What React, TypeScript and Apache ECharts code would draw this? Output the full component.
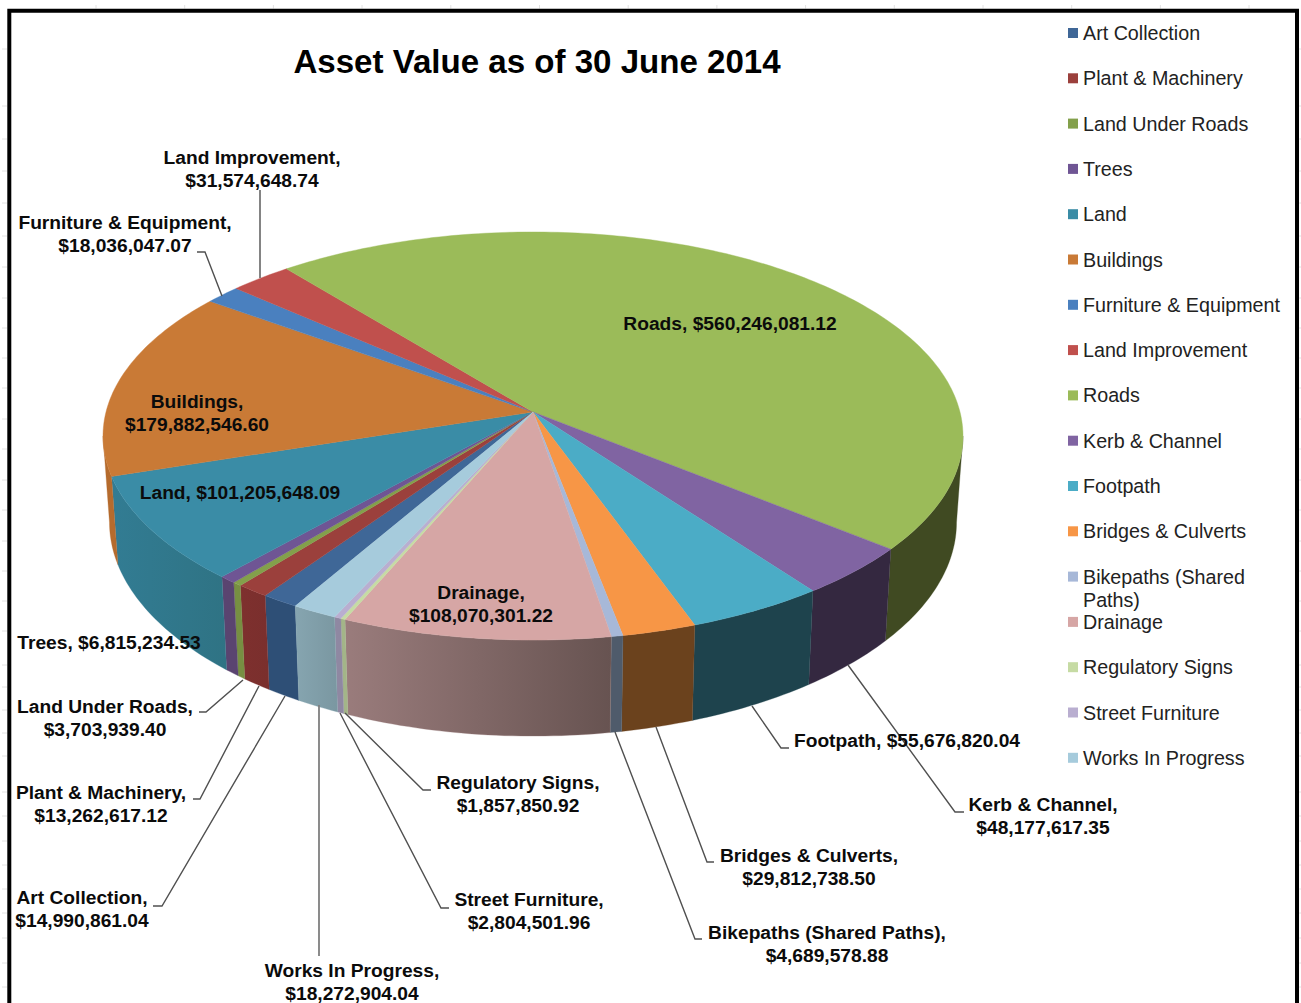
import React, { useEffect, useRef } from "react";
import * as echarts from "echarts";

const categories = ["Art Collection","Plant & Machinery","Land Under Roads","Trees","Land","Buildings","Furniture & Equipment","Land Improvement","Roads","Kerb & Channel","Footpath","Bridges & Culverts","Bikepaths (Shared Paths)","Drainage","Regulatory Signs","Street Furniture","Works In Progress"];
const values = [14990861.04,13262617.12,3703939.40,6815234.53,101205648.09,179882546.60,18036047.07,31574648.74,560246081.12,48177617.35,55676820.04,29812738.50,4689578.88,108070301.22,1857850.92,2804501.96,18272904.04];
const topColors = ["#3f6797","#9b403c","#83a04b","#6f5594","#3a8ca6","#c97a36","#4a80bf","#c0504d","#9bbb59","#8064a2","#4bacc6","#f79646","#a7b8d8","#d6a6a5","#c6dba4","#b9aed0","#a6cbdc"];
const wallLeft = ["#2e4f76","#7e302e","#778f42","#5a4470","#327c93","#b56b2d","#35567f","#823634","#404a22","#342840","#1e434d","#6b421d","#4f5b6b","#9a7c7c","#a3b588","#8f88a2","#86a5b0"];
const wallRight = ["#2e4f76","#7a2f2d","#778f42","#5a4470","#2f7384","#b56b2d","#35567f","#823634","#404a22","#342840","#1e434d","#6b421d","#4f5b6b","#675351","#a3b588","#8f88a2","#7a97a1"];

// label text layout: [centre x, first-line-centre y, two lines?]
const labelLayout: [number, number, boolean][] = [
  [82,897,true],[101,792,true],[105,706,true],[109,642,false],[240,492,false],[197,401,true],[125,222,true],[252,157,true],
  [730,323,false],[1043,804,true],[907,740,false],[809,855,true],[827,932,true],[481,592,true],[518,782,true],[529,899,true],[352,970,true],
];
const leaders: number[][][] = [
  [[153,906],[162,906],[285,696]],[[193,799],[200,799],[259,686]],[[199,712],[206,712],[243,680]],[],[],[],
  [[197,252],[205,252],[222,296]],[[260,190],[260,278]],[],[[848,665],[955,812],[964,812]],[[752,706],[781,748],[789,748]],
  [[656,727],[707,862],[714,862]],[[615,732],[695,939],[702,939]],[],[[345,713],[423,790],[431,790]],[[340,713],[441,908],[449,908]],[[319,705],[319,956]],
];
// faint worksheet gridline stubs showing outside the chart frame
const gridYs = [49,106,139,171,203,236,267,298,328,358,388,419,449,480,510,541,571,601,631,665,687,710,733,756,792,816,841,865,889,913,938,963,987];
const gridXs = [96,184.7,273.4,362,450.8,539.5,628.2,716.9,805.6,894.3,983,1071.7,1160.4,1249];

const total = values.reduce((a, b) => a + b, 0);
const START_DEG = 30;
const top = { cx: 533, y0: 412, a: 201.2, b: 0.1176, c: 427 };
const bot = { cx: 533, y0: 497, a: 211, b: 0.1176, c: 420.6 };
const TANGENT_DEG = 83.25; // the pie's silhouette: walls are visible within this angle of the front
const project = (deg: number, p: typeof top) => {
  const r = (deg * Math.PI) / 180;
  const u = -Math.sin(r), v = Math.cos(r);
  const d = 1 - p.b * v;
  return [p.cx + (p.c * u) / d, p.y0 + (p.a * v) / d];
};
const arc = (from: number, to: number, p: typeof top) => {
  const n = Math.max(2, Math.ceil(to - from) + 1);
  const pts: number[][] = [];
  for (let i = 0; i < n; i++) pts.push(project(from + ((to - from) * i) / (n - 1), p));
  return pts;
};
const visibleRanges = (from: number, to: number) => {
  const out: [number, number][] = [];
  for (const c of [0, 360]) {
    const a = Math.max(from, c - TANGENT_DEG), b = Math.min(to, c + TANGENT_DEG);
    if (b > a) out.push([a, b]);
  }
  return out;
};
const money = (v: number) => "$" + v.toLocaleString("en-US", { minimumFractionDigits: 2, maximumFractionDigits: 2 });
const labelText = (i: number) =>
  labelLayout[i][2] ? `${categories[i]},\n${money(values[i])}` : `${categories[i]}, ${money(values[i])}`;
const cumulative: number[] = [];
values.reduce((acc, v, i) => { cumulative[i] = acc; return acc + v; }, 0);

const FONT = '"Liberation Sans", Arial, sans-serif';

export default function App() {
  const ref = useRef<HTMLDivElement>(null);
  useEffect(() => {
    document.body.style.margin = "0";
    const chart = echarts.init(ref.current!, undefined, { renderer: "svg" });
    const series = categories.map((name, i) => ({
      type: "custom",
      name,
      coordinateSystem: "none",
      silent: true,
      itemStyle: { color: topColors[i] },
      data: [[values[i], cumulative[i]]],
      renderItem: (_p: any, api: any) => {
        const from = START_DEG + (api.value(1) / total) * 360;
        const to = from + (api.value(0) / total) * 360;
        const children: any[] = [];
        visibleRanges(from, to).forEach(([a, b]) => {
          children.push({
            type: "polygon", z2: 1, shape: { points: [...arc(a, b, top), ...arc(a, b, bot).reverse()] },
            style: {
              fill: new echarts.graphic.LinearGradient(0, 0, 1, 0, [
                { offset: 0, color: wallLeft[i] }, { offset: 1, color: wallRight[i] },
              ]),
              stroke: wallLeft[i], lineWidth: 0.3,
            },
          });
        });
        children.push({
          type: "polygon", z2: 2, shape: { points: [[top.cx, top.y0], ...arc(from, to, top)] },
          style: { fill: topColors[i], stroke: topColors[i], lineWidth: 0.4 },
        });
        if (leaders[i].length) {
          children.push({
            type: "polyline", z2: 3, shape: { points: leaders[i] },
            style: { fill: "none", stroke: i === 16 ? "#7f7f7f" : "#505050", lineWidth: i === 16 ? 1.8 : 1.4 },
          });
        }
        const [lx, ly] = labelLayout[i];
        children.push({
          type: "text", z2: 4, x: lx, y: ly - 11,
          style: {
            text: labelText(i), fill: "#0b0b0b", font: `bold 19.2px ${FONT}`,
            textAlign: "center", textVerticalAlign: "top", lineHeight: 23,
          },
        });
        return { type: "group", children };
      },
    }));
    const stubs: any[] = [];
    const stubStyle = { stroke: "#e2e2e2", lineWidth: 1 };
    gridYs.forEach((y) => {
      stubs.push({ type: "line", silent: true, shape: { x1: 2, y1: y, x2: 7, y2: y }, style: stubStyle });
      stubs.push({ type: "line", silent: true, shape: { x1: 1299, y1: y, x2: 1301, y2: y }, style: stubStyle });
    });
    gridXs.forEach((x) => {
      stubs.push({ type: "line", silent: true, shape: { x1: x, y1: 5, x2: x, y2: 8.5 }, style: stubStyle });
    });
    chart.setOption({
      animation: false,
      backgroundColor: "#ffffff",
      title: {
        text: "Asset Value as of 30 June 2014",
        left: 532, top: 40, textAlign: "center",
        textStyle: { fontFamily: FONT, fontWeight: "bold", fontSize: 33.1, color: "#000000" },
      },
      legend: {
        orient: "vertical", left: 1068, top: 21.5, icon: "rect", itemWidth: 10, itemHeight: 10, itemGap: 22.3,
        selectedMode: false, padding: 0, data: categories,
        formatter: (n: string) => (n.startsWith("Bikepaths") ? "Bikepaths (Shared" : n),
        textStyle: { fontFamily: FONT, fontSize: 19.7, color: "#222222", lineHeight: 23 },
      },
      graphic: [
        ...stubs,
        { type: "polyline", silent: true, shape: { points: [[9.3, 1003], [9.3, 10.7], [1297, 10.7], [1297, 1003]] }, style: { fill: "none", stroke: "#000000", lineWidth: 4 } },
        { type: "text", silent: true, x: 1083, y: 600, style: { text: "Paths)", fill: "#222222", font: `19.7px ${FONT}`, textAlign: "left", textVerticalAlign: "middle" } },
      ],
      series,
    });
    return () => chart.dispose();
  }, []);
  return <div ref={ref} style={{ position: "fixed", left: 0, top: 0, width: 1301, height: 1003 }} />;
}
